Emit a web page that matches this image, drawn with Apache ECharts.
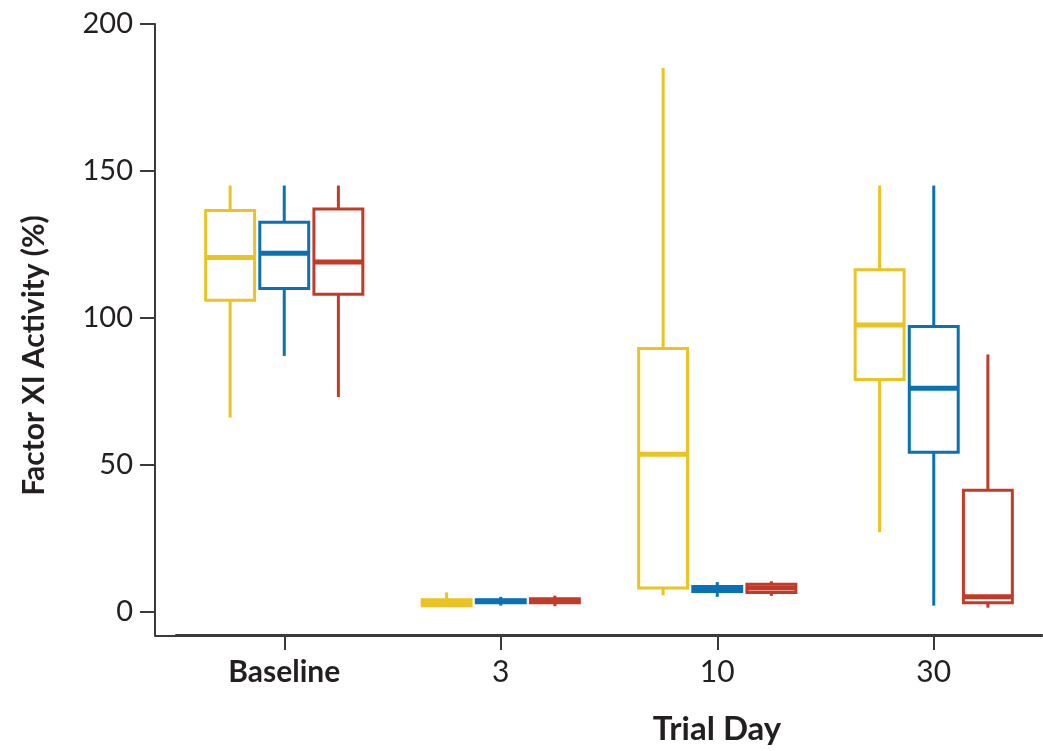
<!DOCTYPE html>
<html>
<head>
<meta charset="utf-8">
<script src="https://cdn.jsdelivr.net/npm/echarts@6/dist/echarts.min.js"></script>
<style>
  html, body { margin: 0; padding: 0; background: #fff; }
  #chart { width: 1043px; height: 751px; }
</style>
</head>
<body>
<div id="chart"></div>
<script>
// trial days on the x axis
var days = ['Baseline', '3', '10', '30'];
var yTicks = [0, 50, 100, 150, 200];

// [min, q1, median, q3, max] per day
var yellowBoxes = [
    [66, 106, 120.5, 136.5, 145],
    [1.5, 2, 3, 4, 6.5],
    [5.5, 8, 53.5, 89.5, 185],
    [27, 79, 97.5, 116.3, 145]
];
var blueBoxes = [
    [87, 110, 122, 132.5, 145],
    [2, 3, 3.5, 4, 5],
    [5, 6.8, 7.5, 8.5, 10],
    [2, 54.2, 76, 97, 145]
];
var redBoxes = [
    [73, 108, 119, 137, 145],
    [1.8, 3, 3.5, 4.3, 5.4],
    [5.3, 6.5, 8, 9.3, 10.3],
    [1.3, 3, 5, 41.3, 87.5]
];

var axisColor = '#3a3a3a';
var textColor = '#231f20';
var font = 'Lato, "Open Sans", sans-serif';

function toRows(boxes) {
    return boxes.map(function (b, i) { return [i].concat(b); });
}

function boxRenderer(offset, color) {
    return function (params, api) {
        var cat = api.value(0);
        var band = api.size([1, 0])[0];
        var cx = api.coord([cat, 0])[0] + offset * band;
        var half = band * 0.113;
        var yMin = api.coord([cat, api.value(1)])[1];
        var yQ1 = api.coord([cat, api.value(2)])[1];
        var yMed = api.coord([cat, api.value(3)])[1];
        var yQ3 = api.coord([cat, api.value(4)])[1];
        var yMax = api.coord([cat, api.value(5)])[1];
        var line = { stroke: color, lineWidth: 3 };
        return {
            type: 'group',
            children: [
                { type: 'line', shape: { x1: cx, y1: yMin, x2: cx, y2: yQ1 }, style: line },
                { type: 'line', shape: { x1: cx, y1: yQ3, x2: cx, y2: yMax }, style: line },
                { type: 'rect', shape: { x: cx - half, y: yQ3, width: half * 2, height: yQ1 - yQ3 },
                  style: { fill: 'none', stroke: color, lineWidth: 3 } },
                { type: 'line', shape: { x1: cx - half, y1: yMed, x2: cx + half, y2: yMed },
                  style: { stroke: color, lineWidth: 5 } }
            ]
        };
    };
}

function boxSeries(name, boxes, offset, color) {
    return {
        name: name,
        type: 'custom',
        xAxisIndex: 0,
        yAxisIndex: 0,
        renderItem: boxRenderer(offset, color),
        encode: { x: 0, y: [1, 2, 3, 4, 5] },
        data: toRows(boxes)
    };
}

var myChart = echarts.init(document.getElementById('chart'));
var option = {
    animation: false,
    grid: [
        { left: 176, right: 1, top: 24, bottom: 115 },
        { left: 155, right: 1, top: 24, bottom: 115 }
    ],
    xAxis: [
        {
            type: 'category',
            gridIndex: 0,
            data: days.map(function (d, i) {
                return i === 0 ? { value: d, textStyle: { fontWeight: 'bold' } } : d;
            }),
            axisLine: { show: true, onZero: false, lineStyle: { color: axisColor, width: 2 } },
            axisTick: { show: true, interval: 0, alignWithLabel: true, length: 15, lineStyle: { color: axisColor, width: 2 } },
            axisLabel: { fontSize: 30, color: textColor, fontFamily: font, margin: 22 },
            name: 'Trial Day',
            nameLocation: 'middle',
            nameGap: 78,
            nameTextStyle: { fontSize: 33, fontWeight: 'bold', color: textColor, fontFamily: font, padding: [0, 0, 0, 216] }
        },
        {
            type: 'value',
            gridIndex: 1,
            axisLine: { show: true, onZero: false, lineStyle: { color: axisColor, width: 2 } },
            axisTick: { show: false },
            axisLabel: { show: false },
            splitLine: { show: false }
        }
    ],
    yAxis: [
        {
            type: 'value',
            gridIndex: 0,
            min: -8,
            max: 200,
            offset: 21,
            axisLine: { show: true, lineStyle: { color: axisColor, width: 2 } },
            axisTick: { show: true, length: 15, customValues: yTicks, lineStyle: { color: axisColor, width: 2 } },
            axisLabel: { fontSize: 29, color: textColor, fontFamily: font, margin: 22, customValues: yTicks },
            splitLine: { show: false },
            name: 'Factor XI Activity (%)',
            nameLocation: 'middle',
            nameGap: 106,
            nameTextStyle: { fontSize: 30, fontWeight: 'bold', color: textColor, fontFamily: font, padding: [0, 52, 0, 0] }
        },
        {
            type: 'value',
            gridIndex: 1,
            show: false
        }
    ],
    series: [
        boxSeries('Yellow group', yellowBoxes, -0.25, '#e9c422'),
        boxSeries('Blue group', blueBoxes, 0, '#0a71b4'),
        boxSeries('Red group', redBoxes, 0.25, '#c23b28')
    ]
};
myChart.setOption(option);
</script>
</body>
</html>
